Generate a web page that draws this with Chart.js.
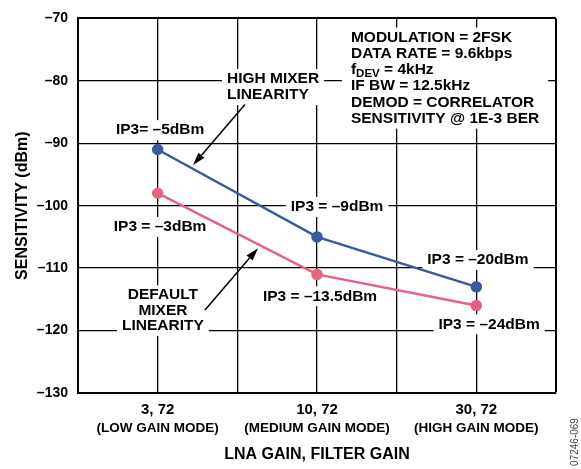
<!DOCTYPE html>
<html>
<head>
<meta charset="utf-8">
<script src="https://cdn.jsdelivr.net/npm/chart.js@4"></script>
<style>
  html, body { margin: 0; padding: 0; background: #fff; }
</style>
</head>
<body>
<canvas id="myChart" width="581" height="469"></canvas>
<script>
// data
const categories = ['3, 72', '10, 72', '30, 72'];
const modes = ['(LOW GAIN MODE)', '(MEDIUM GAIN MODE)', '(HIGH GAIN MODE)'];
const highMixer = [-91, -105, -113];
const defaultMixer = [-98, -111, -116];

const FONT = "'Liberation Sans', Arial, Helvetica, sans-serif";
const BLUE = 'rgb(58, 90, 156)';
const PINK = 'rgb(231, 98, 129)';
const DASH = '\u2013';

// text notes, placed in data units (x = category index, y = dBm)
const notes = [
  { lines: ['IP3= ' + DASH + '5dBm'], x: 0.015, y: -87.9 },
  { lines: ['IP3 = ' + DASH + '3dBm'], x: 0.015, y: -103.4 },
  { lines: ['DEFAULT', 'MIXER', 'LINEARITY'], x: 0.033, y: -116.8, lh: 15.5 },
  { lines: ['HIGH MIXER', 'LINEARITY'], x: 0.435, y: -81.0, lh: 16, align: 'left' },
  { lines: ['MODULATION = 2FSK', 'DATA RATE = 9.6kbps', [['f', 0], ['DEV', 1], [' = 4kHz', 0]],
            'IF BW = 12.5kHz', 'DEMOD = CORRELATOR', 'SENSITIVITY @ 1E-3 BER'],
    x: 1.213, y: -79.56, lh: 16.2, align: 'left', pad: 9 },
  { lines: ['IP3 = ' + DASH + '9dBm'], x: 1.126, y: -100.2 },
  { lines: ['IP3 = ' + DASH + '13.5dBm'], x: 1.019, y: -114.5 },
  { lines: ['IP3 = ' + DASH + '20dBm'], x: 2.01, y: -108.7 },
  { lines: ['IP3 = ' + DASH + '24dBm'], x: 2.08, y: -119.0 }
];

const arrows = [
  { from: [0.548, -83.8], to: [0.222, -93.5] },
  { from: [0.297, -116.7], to: [0.630, -106.8] }
];

const NOTE_SIZE = 15.5;

function segs(line) {
  return typeof line === 'string' ? [[line, 0]] : line;
}

function segFont(sub, size) {
  return 'bold ' + (sub ? size - 4 : size) + 'px ' + FONT;
}

function lineWidth(ctx, line, size) {
  let w = 0;
  segs(line).forEach(s => { ctx.font = segFont(s[1], size); w += ctx.measureText(s[0]).width; });
  return w;
}

const notesPlugin = {
  id: 'notes',
  beforeDatasetsDraw(chart) {
    const ctx = chart.ctx, xs = chart.scales.x, ys = chart.scales.y;
    ctx.save();
    notes.forEach(n => {
      const size = n.size || NOTE_SIZE;
      const lh = n.lh || 16;
      const pad = n.pad || 5;
      const w = Math.max(...n.lines.map(l => lineWidth(ctx, l, size)));
      const h = lh * n.lines.length;
      const px = xs.getPixelForValue(n.x), py = ys.getPixelForValue(n.y);
      const top = py - h / 2;
      ctx.fillStyle = '#fff';
      const bx = n.align === 'left' ? px - pad : px - w / 2 - pad;
      ctx.fillRect(bx, top - 2, w + pad * 2, h + 4);
      ctx.fillStyle = '#000';
      ctx.textBaseline = 'middle';
      ctx.textAlign = 'left';
      n.lines.forEach((l, i) => {
        const cy = top + lh * i + lh / 2;
        let cx = n.align === 'left' ? px : px - lineWidth(ctx, l, size) / 2;
        segs(l).forEach(s => {
          ctx.font = segFont(s[1], size);
          ctx.fillText(s[0], cx, cy + (s[1] ? 4 : 0));
          cx += ctx.measureText(s[0]).width;
        });
      });
    });
    ctx.restore();
  },
  afterDatasetsDraw(chart) {
    const ctx = chart.ctx, xs = chart.scales.x, ys = chart.scales.y;
    ctx.save();
    ctx.strokeStyle = '#000';
    ctx.fillStyle = '#000';
    ctx.lineWidth = 1.5;
    arrows.forEach(a => {
      const x1 = xs.getPixelForValue(a.from[0]), y1 = ys.getPixelForValue(a.from[1]);
      const x2 = xs.getPixelForValue(a.to[0]), y2 = ys.getPixelForValue(a.to[1]);
      const ang = Math.atan2(y2 - y1, x2 - x1);
      const len = 13, half = 4;
      const bx = x2 - len * Math.cos(ang), by = y2 - len * Math.sin(ang);
      ctx.beginPath();
      ctx.moveTo(x1, y1);
      ctx.lineTo(bx, by);
      ctx.stroke();
      ctx.beginPath();
      ctx.moveTo(x2, y2);
      ctx.lineTo(bx + half * Math.sin(ang), by - half * Math.cos(ang));
      ctx.lineTo(bx - half * Math.sin(ang), by + half * Math.cos(ang));
      ctx.closePath();
      ctx.fill();
    });

    // second line of the x tick labels (smaller than the first)
    ctx.font = 'bold 13.5px ' + FONT;
    ctx.textAlign = 'center';
    ctx.textBaseline = 'middle';
    modes.forEach((m, i) => {
      ctx.fillText(m, xs.getPixelForValue(i), xs.top + 35);
    });

    // figure id on the right edge
    ctx.translate(575, 442);
    ctx.rotate(-Math.PI / 2);
    ctx.font = '10px ' + FONT;
    ctx.fillStyle = '#444';
    ctx.fillText('07246-069', 0, 0);
    ctx.restore();
  }
};

const data = {
  datasets: [
    {
      label: 'High mixer linearity',
      data: highMixer.map((v, i) => ({ x: i, y: v })),
      borderColor: BLUE,
      backgroundColor: BLUE,
      borderWidth: 2.5,
      pointRadius: 4.5,
      pointHoverRadius: 4.5
    },
    {
      label: 'Default mixer linearity',
      data: defaultMixer.map((v, i) => ({ x: i, y: v })),
      borderColor: PINK,
      backgroundColor: PINK,
      borderWidth: 2.5,
      pointRadius: 4.5,
      pointHoverRadius: 4.5
    }
  ]
};

const edgeWidth = (max) => (c) => (c.tick && c.tick.value === max ? 2 : 1.3);

const config = {
  type: 'line',
  data: data,
  options: {
    responsive: false,
    animation: false,
    devicePixelRatio: 1,
    layout: { padding: { top: 10, right: 25, left: 0, bottom: 0 } },
    plugins: {
      legend: { display: false },
      tooltip: { enabled: false }
    },
    scales: {
      x: {
        type: 'linear',
        min: -0.5,
        max: 2.5,
        afterFit: (s) => { s.height = 76; },
        grid: { color: '#000', lineWidth: edgeWidth(2.5), drawTicks: false },
        border: { color: '#000', width: 2 },
        ticks: {
          stepSize: 0.5,
          autoSkip: false,
          maxRotation: 0,
          padding: 8,
          color: '#000',
          font: { family: FONT, size: 15, weight: 'bold', lineHeight: 1.2 },
          callback: (v) => Number.isInteger(v) ? categories[v] : ''
        },
        title: {
          display: true,
          text: 'LNA GAIN, FILTER GAIN',
          color: '#000',
          font: { family: FONT, size: 16, weight: 'bold' },
          padding: { top: 0, bottom: 4.4 }
        }
      },
      y: {
        min: -130,
        max: -70,
        afterFit: (s) => { s.width = 78; },
        grid: { color: '#000', lineWidth: edgeWidth(-70), drawTicks: false },
        border: { color: '#000', width: 2 },
        ticks: {
          stepSize: 10,
          padding: 10,
          color: '#000',
          font: { family: FONT, size: 14, weight: 'bold', lineHeight: 1.2 },
          callback: (v) => (v < 0 ? DASH + Math.abs(v) : String(v))
        },
        title: {
          display: true,
          text: 'SENSITIVITY (dBm)',
          color: '#000',
          font: { family: FONT, size: 16, weight: 'bold' },
          padding: { top: 13, bottom: 0 }
        }
      }
    }
  },
  plugins: [notesPlugin]
};

const myChart = new Chart(document.getElementById('myChart'), config);
</script>
</body>
</html>
